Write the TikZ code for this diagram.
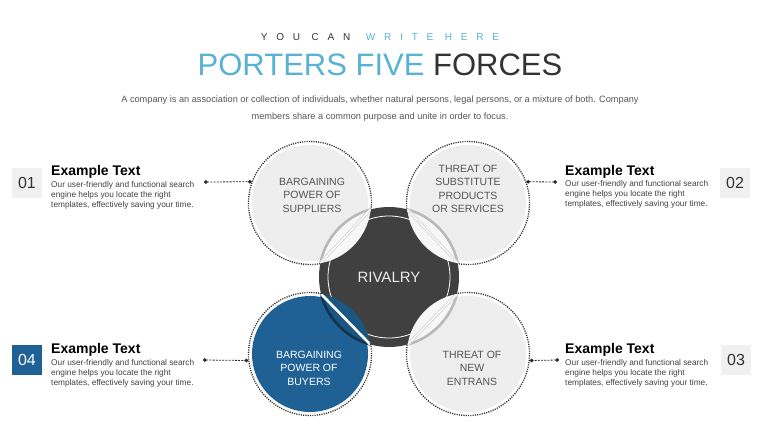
\documentclass[tikz,border=0pt]{standalone}
\usepackage{fontspec}
\setmainfont{Liberation Sans}
\newfontfamily\spacedfont[LetterSpace=88]{Liberation Sans}
\usetikzlibrary{intersections,arrows.meta}

\definecolor{titleblue}{RGB}{88,178,214}
\definecolor{darktext}{RGB}{51,51,51}
\definecolor{bodygray}{RGB}{64,64,64}
\definecolor{subgray}{RGB}{85,85,85}
\definecolor{circgray}{RGB}{238,238,238}
\definecolor{dotgray}{RGB}{40,40,40}
\definecolor{rivaldark}{RGB}{64,64,64}
\definecolor{buyerblue}{RGB}{31,97,148}
\definecolor{numgray}{RGB}{240,240,240}

\begin{document}
\begin{tikzpicture}[x=1pt, y=-1pt,
    forcecirc/.style={circle, draw=dotgray, line width=1.3pt, dash pattern=on 1.1pt off 1.2pt,
        minimum size=123pt, inner sep=0pt,
        path picture={\fill[#1] (path picture bounding box.center) circle (58pt);}},
    forcecirc/.default=circgray,
    forcetext/.style={align=center, text=subgray, font=\fontsize{10.5}{13.5}\selectfont},
    rival/.style={circle, fill=rivaldark, minimum size=140pt, inner sep=0pt},
    numbox/.style={minimum size=30pt, inner sep=0pt, fill=numgray, text=darktext,
        font=\fontsize{16}{16}\selectfont},
    headtext/.style={anchor=west, inner sep=0pt, font=\bfseries\fontsize{14}{14}\selectfont},
    bodytext/.style={anchor=north west, inner sep=0pt, align=left, text=bodygray,
        font=\fontsize{8.3}{10.2}\selectfont},
    connector/.style={dotgray, line width=0.8pt, dash pattern=on 2pt off 1.2pt,
        {Circle[length=3.6pt]}-{Circle[length=3.6pt]}},
    lensedge/.style={gray!55, line width=2.6pt},
    vein/.style={white, line width=1.3pt}
]
    \useasboundingbox (0,0) rectangle (760,428);

    % heading
    \node (tag) at (380,37) {\spacedfont\fontsize{10}{10}\selectfont
        {\color{darktext}YOU CAN}\hspace{4pt} {\color{titleblue}WRITE HERE}};
    \node (title) at (380,65) {\fontsize{31}{31}\selectfont
        {\color{titleblue}PORTERS FIVE} {\color{darktext}FORCES}};
    \node[align=center, text=subgray, font=\fontsize{9.2}{17}\selectfont] (intro) at (380,109)
        {A company is an association or collection of individuals, whether natural persons, legal persons, or a mixture of both. Company\\
         members share a common purpose and unite in order to focus.};

    % the four forces
    \node[forcecirc] (sup) at (310,203) {};
    \node[forcecirc] (sub) at (468,203) {};
    \node[forcecirc=buyerblue] (buy) at (310,354) {};
    \node[forcecirc] (ent) at (468,354) {};

    % rivalry in the middle
    \node[rival] (riv) at (389,277) {};
    \draw[white, line width=0.8pt] (riv.center) circle (61pt);

    \begin{scope}
        \clip (sup.center) circle (61pt);
        \shade[top color=gray!8, bottom color=white] (riv.center) circle (70pt);
        \draw[lensedge] (riv.center) circle (70pt);
        \path[name path=rp] (riv.center) circle (70pt);
        \path[name path=sp] (sup.center) circle (61pt);
        \draw[gray!35, line width=3pt, name intersections={of=rp and sp}] (intersection-1) -- (intersection-2);
        \draw[vein, name intersections={of=rp and sp}] (intersection-1) -- (intersection-2);
    \end{scope}
    \begin{scope}
        \clip (sub.center) circle (61pt);
        \shade[top color=gray!8, bottom color=white] (riv.center) circle (70pt);
        \draw[lensedge] (riv.center) circle (70pt);
        \path[name path=rp] (riv.center) circle (70pt);
        \path[name path=sp] (sub.center) circle (61pt);
        \draw[gray!35, line width=3pt, name intersections={of=rp and sp}] (intersection-1) -- (intersection-2);
        \draw[vein, name intersections={of=rp and sp}] (intersection-1) -- (intersection-2);
    \end{scope}
    \begin{scope}
        \clip (ent.center) circle (61pt);
        \shade[top color=white, bottom color=gray!8] (riv.center) circle (70pt);
        \draw[lensedge] (riv.center) circle (70pt);
        \path[name path=rp] (riv.center) circle (70pt);
        \path[name path=sp] (ent.center) circle (61pt);
        \draw[gray!35, line width=3pt, name intersections={of=rp and sp}] (intersection-1) -- (intersection-2);
        \draw[vein, name intersections={of=rp and sp}] (intersection-1) -- (intersection-2);
    \end{scope}
    \begin{scope}
        \clip (buy.center) circle (61pt);
        \fill[black!12!buyerblue] (riv.center) circle (70pt);
        \draw[black!45!buyerblue, line width=2.6pt] (riv.center) circle (70pt);
        \path[name path=rp] (riv.center) circle (70pt);
        \path[name path=sp] (buy.center) circle (61pt);
        \draw[vein, line width=2.6pt, name intersections={of=rp and sp}] (intersection-1) -- (intersection-2);
    \end{scope}

    \node[text=white!92!black, font=\fontsize{15}{15}\selectfont] (rivtxt) at (riv.center) {RIVALRY};

    % labels of the forces
    \node[forcetext] (suptxt) at (312,195) {BARGAINING\\POWER OF\\SUPPLIERS};
    \node[forcetext] (subtxt) at (468,189) {THREAT OF\\SUBSTITUTE\\PRODUCTS\\OR SERVICES};
    \node[forcetext, text=white] (buytxt) at (309,368) {BARGAINING\\POWER OF\\BUYERS};
    \node[forcetext] (enttxt) at (472,368) {THREAT OF\\NEW\\ENTRANS};

    % side texts
    \node[numbox] (n1) at (27,183) {01};
    \node[numbox] (n2) at (735,183) {02};
    \node[numbox] (n3) at (736,360) {03};
    \node[numbox, fill=buyerblue, text=white] (n4) at (27,360) {04};

    \node[headtext] (h1) at (51,172) {Example Text};
    \node[bodytext] (b1) at (51,181) {Our user-friendly and functional search\\engine helps you locate the right\\templates, effectively saving your time.};
    \node[headtext] (h2) at (565,172) {Example Text};
    \node[bodytext] (b2) at (565,180) {Our user-friendly and functional search\\engine helps you locate the right\\templates, effectively saving your time.};
    \node[headtext] (h3) at (565,350) {Example Text};
    \node[bodytext] (b3) at (565,359) {Our user-friendly and functional search\\engine helps you locate the right\\templates, effectively saving your time.};
    \node[headtext] (h4) at (51,350) {Example Text};
    \node[bodytext] (b4) at (51,359) {Our user-friendly and functional search\\engine helps you locate the right\\templates, effectively saving your time.};

    \coordinate (e1) at (204,182);
    \coordinate (e2) at (557,182);
    \coordinate (e3) at (559,360);
    \coordinate (e4) at (203,360);

    \draw[connector] (e1) -- (sup.160);
    \draw[connector] (e2) -- (sub.20);
    \draw[connector] (e3) -- (ent.-6);
    \draw[connector] (e4) -- (buy.186);
\end{tikzpicture}
\end{document}
